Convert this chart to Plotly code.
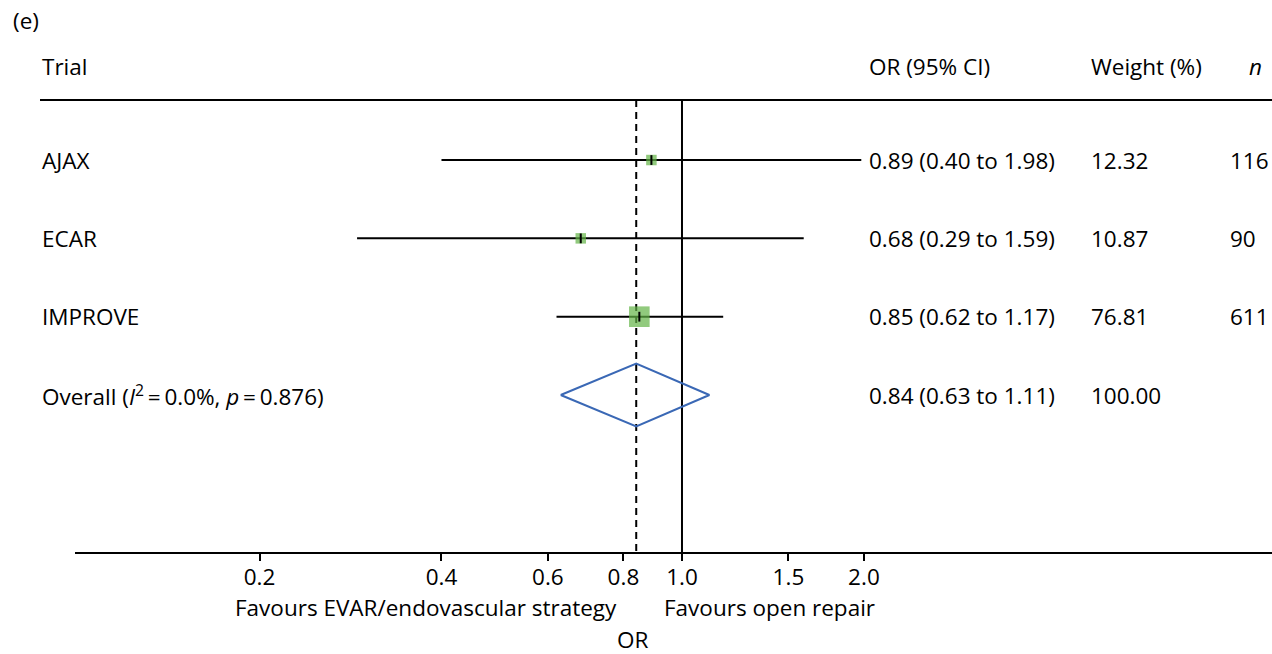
import plotly.graph_objects as go

# ---- data ----
trials = ["AJAX", "ECAR", "IMPROVE"]
odds_ratio = [0.89, 0.68, 0.85]
ci_low = [0.40, 0.29, 0.62]
ci_high = [1.98, 1.59, 1.17]
weights = [12.32, 10.87, 76.81]
n_patients = [116, 90, 611]

overall_label = "Overall (<i>I</i><sup>2</sup>\u2009=\u20090.0%, <i>p</i>\u2009=\u20090.876)"
overall_or = 0.84
overall_low = 0.63
overall_high = 1.11
overall_weight = 100.00

tick_vals = [0.2, 0.4, 0.6, 0.8, 1.0, 1.5, 2.0]
tick_text = ["0.2", "0.4", "0.6", "0.8", "1.0", "1.5", "2.0"]

# ---- layout constants ----
W, H = 1272, 654
FONT = "Open Sans"
FS = 22.5
GREEN = "#62b346"
BLUE = "#3a68b5"

rows = [1, 2, 3]
overall_row = 4
header_row = 0.234
bottom_row = 6.004

fig = go.Figure()

# reference line at OR = 1
fig.add_trace(go.Scatter(x=[1.0, 1.0], y=[header_row, bottom_row], mode="lines",
                         line=dict(color="black", width=2), hoverinfo="skip"))
# dashed line at overall estimate
fig.add_trace(go.Scatter(x=[overall_or, overall_or], y=[header_row, bottom_row], mode="lines",
                         line=dict(color="black", width=2, dash="7px,5px"), hoverinfo="skip"))

# confidence intervals
for r, lo, hi in zip(rows, ci_low, ci_high):
    fig.add_trace(go.Scatter(x=[lo, hi], y=[r, r], mode="lines",
                             line=dict(color="black", width=2), hoverinfo="skip"))

# weight squares
sizes = [max(10.5, 2.35 * w ** 0.5) for w in weights]
fig.add_trace(go.Scatter(x=odds_ratio, y=rows, mode="markers",
                         marker=dict(symbol="square", size=sizes, color=GREEN,
                                     line=dict(width=0)), hoverinfo="skip"))
# point estimate ticks
fig.add_trace(go.Scatter(x=odds_ratio, y=rows, mode="markers",
                         marker=dict(symbol="line-ns-open", size=7, color="black",
                                     line=dict(color="black", width=2)), hoverinfo="skip"))

# overall diamond
fig.add_trace(go.Scatter(x=[overall_low, overall_or, overall_high, overall_or, overall_low],
                         y=[overall_row, overall_row - 0.4, overall_row, overall_row + 0.4, overall_row],
                         mode="lines", line=dict(color=BLUE, width=2), hoverinfo="skip"))

ann = []
def txt(x_px, y, s, yref="y", xanchor="left"):
    ann.append(dict(x=x_px / W, xref="paper", y=y, yref=yref, text=s, showarrow=False,
                    xanchor=xanchor, yanchor="middle", borderpad=0,
                    font=dict(family=FONT, size=FS, color="black")))

# header
txt(12, 0.963, "(e)", yref="paper")
txt(41, 0.879, "Trial", yref="paper")
txt(868, 0.879, "OR (95% CI)", yref="paper")
txt(1090, 0.879, "Weight (%)", yref="paper")
txt(1248, 0.879, "<i>n</i>", yref="paper")

# rows
for r, name, o, lo, hi, w, n in zip(rows, trials, odds_ratio, ci_low, ci_high, weights, n_patients):
    txt(41, r, name)
    txt(868, r, f"{o:.2f} ({lo:.2f} to {hi:.2f})")
    txt(1090, r, f"{w:.2f}")
    txt(1229, r, f"{n}")

txt(41, overall_row, overall_label)
txt(868, overall_row, f"{overall_or:.2f} ({overall_low:.2f} to {overall_high:.2f})")
txt(1090, overall_row, f"{overall_weight:.2f}")

# bottom labels
txt(618, -0.1, "Favours EVAR/endovascular strategy", yref="paper", xanchor="right")
txt(663, -0.1, "Favours open repair", yref="paper")
txt(633, -0.1594, "OR", yref="paper", xanchor="center")

shapes = [dict(type="line", xref="paper", yref="y", x0=40 / W, x1=1, y0=header_row, y1=header_row,
               line=dict(color="black", width=2))]

fig.update_layout(
    width=W, height=H,
    margin=dict(l=0, r=0, t=0, b=102, pad=0),
    paper_bgcolor="white", plot_bgcolor="white",
    showlegend=False,
    annotations=ann, shapes=shapes,
    font=dict(family=FONT, size=FS, color="black"),
    xaxis=dict(type="log", domain=[75 / W, 1], range=[-1.0043, 0.9762],
               showgrid=False, zeroline=False, showline=True, linecolor="black", linewidth=2,
               ticks="outside", ticklen=7, tickwidth=2, tickcolor="black",
               ticklabelstandoff=-3,
               tickvals=tick_vals, ticktext=tick_text,
               tickfont=dict(family=FONT, size=FS, color="black")),
    yaxis=dict(range=[bottom_row, -1.043], visible=False, showgrid=False, zeroline=False),
)

fig.write_html("out.html")
